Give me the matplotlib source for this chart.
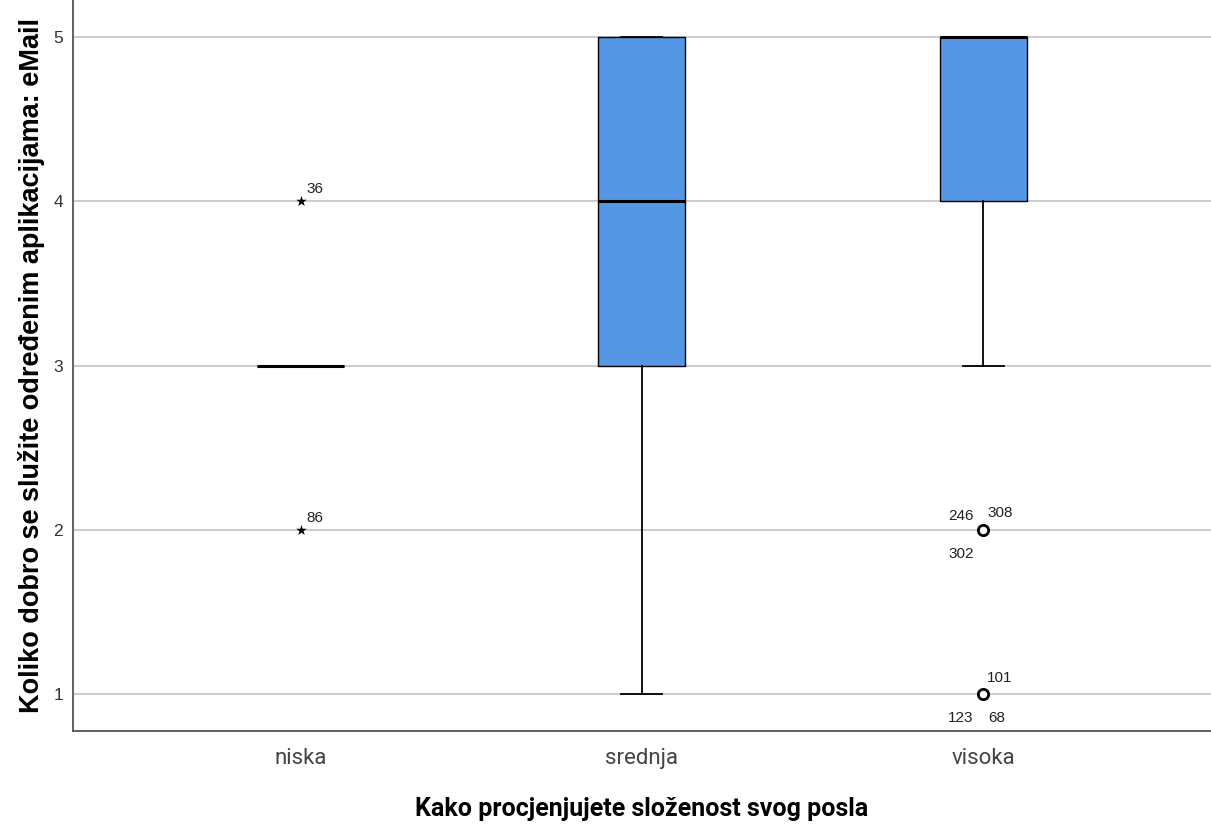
"""
Boxplot: Koliko dobro se služite određenim aplikacijama: eMail
"""

import matplotlib
matplotlib.use("Agg")
import matplotlib.pyplot as plt

plt.rcParams['font.family'] = ['Liberation Sans', 'DejaVu Sans']

# Groups and five-number summaries
categories = ["niska", "srednja", "visoka"]
q1 = [3, 3, 4]
median = [3, 4, 5]
q3 = [3, 5, 5]
whisker_lo = [3, 1, 3]
whisker_hi = [3, 5, 5]

# Extreme values (stars) and outliers (circles) with case labels
extreme_group = [0, 0]
extreme_value = [4, 2]
extreme_label = ["36", "86"]

outlier_group = [2, 2]
outlier_value = [2, 1]
outlier_labels = [("246", "308", "302"), ("123", "101", "68")]

BOX_COLOR = "#5596e5"
NUM_FONT = dict(fontsize=11, color="#222222")


def make_stats():
    stats = []
    for i, name in enumerate(categories):
        stats.append({
            "label": name,
            "q1": q1[i], "med": median[i], "q3": q3[i],
            "whislo": whisker_lo[i], "whishi": whisker_hi[i],
            "fliers": [],
        })
    return stats


def plot_chart():
    fig, ax = plt.subplots(figsize=(12.11, 8.30), dpi=100)
    fig.subplots_adjust(left=0.060, right=1.0, bottom=0.119, top=1.0)

    positions = list(range(len(categories)))
    stats = make_stats()
    # niska collapses to a single line, no box drawn
    ax.bxp(stats, positions=positions, widths=0.255, patch_artist=True,
           showfliers=False, showcaps=True,
           boxprops=dict(facecolor=BOX_COLOR, edgecolor="black", linewidth=1.0),
           medianprops=dict(color="black", linewidth=2.2),
           whiskerprops=dict(color="black", linewidth=1.3),
           capprops=dict(color="black", linewidth=1.3),
           capwidths=0.12, zorder=3)

    ax.scatter(extreme_group, extreme_value, marker="*", s=65,
               color="black", linewidths=0, zorder=4)
    for g, v, lab in zip(extreme_group, extreme_value, extreme_label):
        ax.annotate(lab, (g, v), xytext=(4, 6), textcoords="offset points", **NUM_FONT)

    ax.scatter(outlier_group, outlier_value, marker="o", s=55,
               facecolors="white", edgecolors="black", linewidths=2.0, zorder=4)
    a, b, c = outlier_labels[0]
    g, v = outlier_group[0], outlier_value[0]
    ax.annotate(a, (g, v), xytext=(-25, 7), textcoords="offset points", **NUM_FONT)
    ax.annotate(b, (g, v), xytext=(3, 9), textcoords="offset points", **NUM_FONT)
    ax.annotate(c, (g, v), xytext=(-25, -20), textcoords="offset points", **NUM_FONT)
    a, b, c = outlier_labels[1]
    g, v = outlier_group[1], outlier_value[1]
    ax.annotate(a, (g, v), xytext=(-25, -20), textcoords="offset points", **NUM_FONT)
    ax.annotate(b, (g, v), xytext=(3, 9), textcoords="offset points", **NUM_FONT)
    ax.annotate(c, (g, v), xytext=(4, -20), textcoords="offset points", **NUM_FONT)

    ax.set_xlim(-0.668, 2.668)
    ax.set_ylim(0.775, 5.225)
    ax.set_yticks([1, 2, 3, 4, 5])
    ax.set_xticks(positions)
    ax.set_xticklabels(categories, family=['Roboto', 'DejaVu Sans'])
    ax.yaxis.grid(True, color="#c8c8c8", linewidth=1.3, zorder=0)
    ax.set_axisbelow(True)

    ax.tick_params(axis="x", length=0, pad=12, labelsize=16, labelcolor="#444444")
    ax.tick_params(axis="y", length=0, pad=7, labelsize=12.5, labelcolor="#333333")

    for side in ("top", "right"):
        ax.spines[side].set_visible(False)
    for side in ("left", "bottom"):
        ax.spines[side].set_color("#555555")
        ax.spines[side].set_linewidth(1.3)

    ax.set_xlabel("Kako procjenjujete složenost svog posla", fontsize=18,
                  fontweight="bold", family=['Roboto', 'DejaVu Sans'], labelpad=20)
    ax.set_ylabel("Koliko dobro se služite određenim aplikacijama: eMail",
                  fontsize=19.5, fontweight="bold", labelpad=6)

    fig.savefig("out.png", dpi=100, facecolor="white")


if __name__ == "__main__":
    plot_chart()
